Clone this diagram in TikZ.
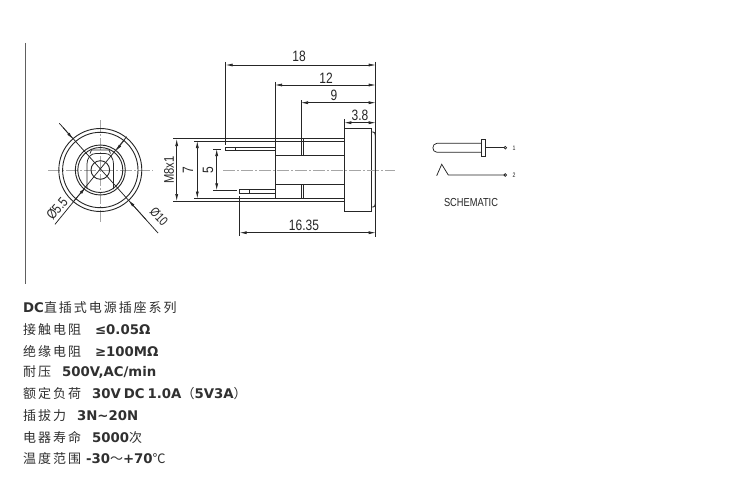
\documentclass[tikz,border=0pt]{standalone}
\usepackage{fontspec}
\usetikzlibrary{arrows.meta}
\newfontfamily\dimfont[FakeStretch=0.8]{Liberation Sans}
\newfontfamily\cjkfont[LetterSpace=15]{Noto Sans CJK SC}
\newfontfamily\latfont{DejaVu Sans Bold}
\newcommand{\Cn}[1]{{\cjkfont #1}}
\newcommand{\Lt}[1]{{\latfont\fontsize{13.3}{15}\selectfont\spaceskip=3pt #1}}
\definecolor{ink}{HTML}{262626}
\definecolor{txt}{HTML}{303030}
\tikzset{
  line/.style={draw=ink,line width=0.9pt},
  thin line/.style={draw=ink,line width=0.75pt},
  dim/.style={draw=ink,line width=0.7pt,{Latex[length=7pt,width=3pt]}-{Latex[length=7pt,width=3pt]}},
  lead/.style={draw=ink,line width=0.7pt,-{Latex[length=7pt,width=3pt]}},
  center/.style={draw=gray!70,line width=0.6pt,dash pattern=on 12pt off 2pt on 2pt off 2pt},
  dimtxt/.style={font=\dimfont\fontsize{15}{15}\selectfont,text=ink,inner sep=0pt},
  small/.style={font=\dimfont\fontsize{14}{14}\selectfont,text=ink,inner sep=0pt},
  spec/.style={anchor=west,inner sep=0pt,text=txt,font=\fontsize{13}{15}\selectfont},
}
\begin{document}
\begin{tikzpicture}[x=1pt,y=-1pt]
\useasboundingbox (0,0) rectangle (750,487);
\fill[white] (0,0) rectangle (750,487);
% frame rule
\draw[draw=gray!75!black,line width=1.5pt] (25.7,43) -- (25.7,284);
% front view
\coordinate (c) at (100.3,170);
\draw[center] (48,170) -- (153,170);
\draw[center] (100.3,120) -- (100.3,222);
\draw[line] (c) circle (41.5) (c) circle (37.7) (c) circle (25) (c) circle (22.5) (c) circle (9.3);
\draw[thin line] (87,189) -- (87,165) .. controls (87,157) and (91,153.5) .. (96,153.5) -- (105,153.5) .. controls (110,153.5) and (113.5,157) .. (113.5,165) -- (113.5,189);
\draw[thin line] (90,153.5) -- (91.5,150) -- (109,150) -- (110.5,153.5);
% diameter leaders
\draw[thin line] (59.3,123.3) -- (158,233);
\draw[thin line] (126.7,136.7) -- (55,224.3);
\draw[lead] (63,127.5) -- (73,139);
\draw[lead] (146,219.5) -- (128.5,200.3);
\draw[lead] (124.5,140) -- (115.7,151);
\draw[lead] (73,202) -- (85.5,187.5);
\node[small,rotate=50] (dfive) at (57,208.5) {Ø5.5};
\node[small,rotate=-47,font=\dimfont\fontsize{13}{13}\selectfont] (dten) at (159,216.5) {Ø10};
% side view body
\draw[line] (173,138.7) -- (344.3,138.7);
\draw[line] (194,141) -- (344.3,141);
\draw[line] (173,201) -- (344.3,201);
\draw[line] (194,198.5) -- (344.3,198.5);
\draw[line] (275,138.7) -- (275,199);
\draw[line] (275,155.3) -- (344.3,155.3);
\draw[line] (275,184.3) -- (344.3,184.3);
\draw[line] (301,138.7) -- (301,155.3) (303,138.7) -- (303,155.3);
\draw[line] (301,184.3) -- (301,198.5) (303,184.3) -- (303,198.5);
% head
\draw[line] (344.3,128) rectangle (371.7,211.7);
\draw[line] (371.7,132) -- (373,132) .. controls (374.5,132) and (375.2,133) .. (375.2,135) -- (375.2,204) .. controls (375.2,206) and (374.5,207) .. (373,207) -- (371.7,207);
% pins
\draw[line] (225.7,147.3) rectangle (275,150.7);
\draw[line] (235,147.3) -- (235,150.7);
\draw[line] (239.7,189) rectangle (275,193.3);
\draw[line] (249,189) -- (249,193.3);
% centre line
\draw[center] (223,170) -- (395,170);
% dimensions
\draw[thin line] (225.7,62) -- (225.7,145);
\draw[thin line] (375.7,62) -- (375.7,237);
\draw[thin line] (275,82) -- (275,139);
\draw[thin line] (301,100) -- (301,139);
\draw[thin line] (344.3,119) -- (344.3,128);
\draw[thin line] (239.7,196) -- (239.7,236);
\draw[thin line] (213,149) -- (221,149);
\draw[thin line] (213,190.3) -- (236.7,190.3);
\draw[dim] (225.7,65) -- (375.7,65);
\draw[dim] (275,85) -- (375.7,85);
\draw[dim] (301,102.7) -- (375.7,102.7);
\draw[dim] (344.3,122.7) -- (375.7,122.7);
\draw[dim] (239.7,232.7) -- (375.7,232.7);
\draw[dim] (176.7,139) -- (176.7,201);
\draw[dim] (197.3,141) -- (197.3,198.5);
\draw[dim] (216.7,149) -- (216.7,190.3);
\node[dimtxt] (d18) at (299,56) {18};
\node[dimtxt] (d12) at (326,78) {12};
\node[dimtxt] (d9) at (334,95) {9};
\node[dimtxt] (d38) at (360,115) {3.8};
\node[dimtxt] (d1635) at (304,225) {16.35};
\node[small,rotate=90] (dm) at (169,170) {M8x1};
\node[dimtxt,rotate=90] (d7) at (188,170) {7};
\node[dimtxt,rotate=90] (d5) at (208,170) {5};
% schematic
\draw[thin line] (481,143.3) -- (437,143.3) .. controls (431.5,143.3) and (431.5,152.3) .. (437,152.3) -- (481,152.3);
\draw[thin line] (481,139) rectangle (485,156.7);
\draw[thin line] (485,147.7) -- (504,147.7);
\draw[thin line] (505.3,147.7) circle (1.3);
\draw[thin line] (436.7,175.7) -- (441.7,164.3) -- (448.3,175) -- (504,175);
\draw[thin line] (505.3,175) circle (1.3);
\node[inner sep=0pt,text=ink,font=\dimfont\fontsize{6.5}{6.5}\selectfont] (p1) at (514,148) {1};
\node[inner sep=0pt,text=ink,font=\dimfont\fontsize{6.5}{6.5}\selectfont] (p2) at (514,175.5) {2};
\node[inner sep=0pt,text=ink,font=\dimfont\fontsize{11.6}{12}\selectfont] (sch) at (471,203) {SCHEMATIC};
% specification text
\node[spec] (s1) at (23,308) {\Lt{DC}\Cn{直插式电源插座系列}};
\node[spec] (s2) at (23,330) {\Cn{接触电阻}\hspace{14pt}\Lt{≤0.05Ω}};
\node[spec] (s3) at (23,351) {\Cn{绝缘电阻}\hspace{14pt}\Lt{≥100MΩ}};
\node[spec] (s4) at (23,372.5) {\Cn{耐压}\hspace{11pt}\Lt{500V,AC/min}};
\node[spec] (s5) at (23,394) {\Cn{额定负荷}\hspace{11pt}\Lt{30V DC 1.0A}\Cn{（}\Lt{5V3A}\Cn{）}};
\node[spec] (s6) at (23,416) {\Cn{插拔力}\hspace{11pt}\Lt{3N\char"7E 20N}};
\node[spec] (s7) at (23,438) {\Cn{电器寿命}\hspace{11pt}\Lt{5000}\Cn{次}};
\node[spec] (s8) at (23,459) {\Cn{温度范围}\hspace{5pt}\Lt{-30}\Cn{～}\Lt{+70}\Cn{℃}};
\end{tikzpicture}
\end{document}
